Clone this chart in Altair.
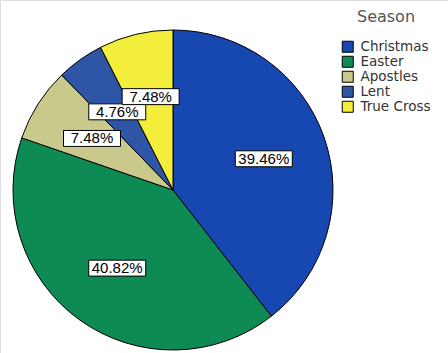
import altair as alt
import pandas as pd

# ---- data ----
seasons = ["Christmas", "Easter", "Apostles", "Lent", "True Cross"]
percents = [39.46, 40.82, 7.48, 4.76, 7.48]
colors = ["#1747b0", "#0e8a55", "#c9c98c", "#2f55a6", "#f3ee3c"]

df = pd.DataFrame({
    "Season": seasons,
    "Percent": percents,
    "order": list(range(len(seasons))),
    "label": [f"{p:.2f}%" for p in percents],
})

CX, CY, R = 173, 190, 160   # pie centre and radius (px)
LR = 0.6                      # label radius as fraction of R

base = alt.Chart(df)

pie = base.mark_arc(outerRadius=R, stroke="black", strokeWidth=1).encode(
    theta=alt.Theta("Percent:Q", stack=True),
    color=alt.Color(
        "Season:N",
        sort=seasons,
        scale=alt.Scale(domain=seasons, range=colors),
        legend=alt.Legend(
            title="Season",
            orient="none",
            legendX=341,
            legendY=9,
            titleFont="DejaVu Sans",
            titleFontSize=16,
            titleFontWeight="normal",
            titleColor="#555555",
            titleAnchor="middle",
            titlePadding=15,
            labelFont="DejaVu Sans",
            labelFontSize=13.5,
            labelColor="#333333",
            labelOffset=6,
            labelLimit=200,
            symbolType="square",
            symbolSize=121,
            symbolStrokeColor="black",
            symbolStrokeWidth=1,
            symbolOpacity=1,
            rowPadding=-2,
        ),
    ),
    order=alt.Order("order:Q"),
    x=alt.value(CX),
    y=alt.value(CY),
)

pos = (
    base.transform_joinaggregate(total="sum(Percent)")
    .transform_window(cum="sum(Percent)", sort=[alt.SortField("order")], frame=[None, 0])
    .transform_calculate(
        mid="(datum.cum - datum.Percent/2) / datum.total * 2 * PI",
    )
    .transform_calculate(
        lx=f"{LR} * sin(datum.mid)",
        ly=f"{LR} * cos(datum.mid)",
    )
)

xs = alt.Scale(domain=[-1, 1], range=[CX - R, CX + R])
ys = alt.Scale(domain=[-1, 1], range=[CY + R, CY - R])

boxes = pos.mark_point(
    shape="M-1,-0.28H1V0.28H-1Z",
    size=3249,
    filled=True,
    fill="white",
    stroke="black",
    strokeWidth=1,
    opacity=1,
).encode(
    x=alt.X("lx:Q", scale=xs, axis=None),
    y=alt.Y("ly:Q", scale=ys, axis=None),
)

texts = pos.mark_text(
    font="Liberation Sans", fontSize=15, color="black", baseline="middle", align="center"
).encode(
    x=alt.X("lx:Q", scale=xs, axis=None),
    y=alt.Y("ly:Q", scale=ys, axis=None),
    text="label:N",
)

chart = (
    alt.layer(pie, boxes, texts)
    .properties(width=448, height=353, autosize=alt.AutoSizeParams(type="none"), padding=0)
    .configure_view(stroke=None)
    .configure(background="white")
)

chart.save("out.html", embed_options={"renderer": "svg", "actions": False})
